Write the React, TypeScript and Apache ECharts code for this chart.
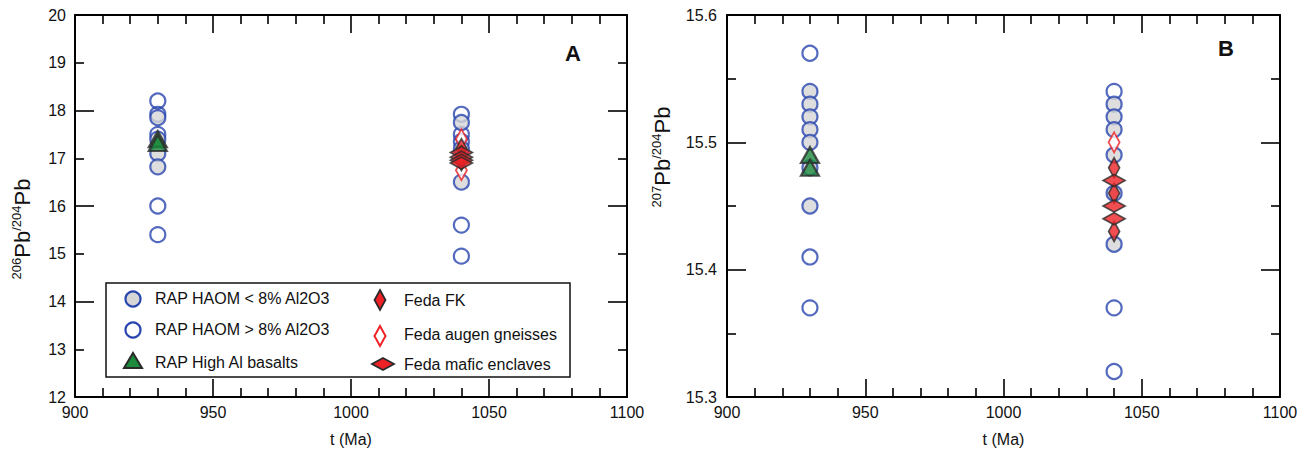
import React, { useEffect, useRef } from "react";
import * as echarts from "echarts";

// ---------- DATA ----------
// Panel A : 206Pb/204Pb vs t (Ma)
const aHaomLow: number[][] = [[930, 17.85], [930, 17.4], [930, 17.1], [930, 16.82], [1040, 17.75], [1040, 17.2], [1040, 16.5]];
const aHaomHigh: number[][] = [[930, 18.2], [930, 17.92], [930, 17.5], [930, 16.0], [930, 15.4], [1040, 17.92], [1040, 17.5], [1040, 17.35], [1040, 15.6], [1040, 14.95]];
const aHighAlBasalt: number[][] = [[930, 17.4], [930, 17.32]];
const aFedaFK: number[][] = [[1040, 17.2], [1040, 17.05], [1040, 16.95]];
const aFedaAugen: number[][] = [[1040, 17.4], [1040, 16.75]];
const aFedaMafic: number[][] = [[1040, 17.12], [1040, 17.02], [1040, 16.96], [1040, 16.9]];

// Panel B : 207Pb/204Pb vs t (Ma)
const bHaomLow: number[][] = [[930, 15.54], [930, 15.53], [930, 15.52], [930, 15.51], [930, 15.5], [930, 15.48], [930, 15.45], [1040, 15.53], [1040, 15.52], [1040, 15.51], [1040, 15.49], [1040, 15.46], [1040, 15.42]];
const bHaomHigh: number[][] = [[930, 15.57], [930, 15.41], [930, 15.37], [1040, 15.54], [1040, 15.37], [1040, 15.32]];
const bHighAlBasalt: number[][] = [[930, 15.49], [930, 15.48]];
const bFedaFK: number[][] = [[1040, 15.48], [1040, 15.46], [1040, 15.43]];
const bFedaAugen: number[][] = [[1040, 15.5]];
const bFedaMafic: number[][] = [[1040, 15.47], [1040, 15.45], [1040, 15.44]];

const xTicksMin = 900;
const xTicksMax = 1100;
const aYMin = 12;
const aYMax = 20;
const bYMin = 15.3;
const bYMax = 15.6;

const legendLeft = ["RAP HAOM < 8% Al2O3", "RAP HAOM > 8% Al2O3", "RAP High Al basalts"];
const legendRight = ["Feda FK", "Feda augen gneisses", "Feda mafic enclaves"];

// ---------- STYLE ----------
const FONT = "Arial, 'Liberation Sans', Helvetica, sans-serif";
const INK = "#111";
const BLUE = "#2845ae";
const GRAY = "#d6d6d6";
const GREEN = "#1c8a3c";
const RED = "#ee2226";
const DARK = "#2a2a2a";

const lineStyle = { color: "#000", width: 2 };
const tickStyle = { color: "#000", width: 1.6 };

function xAx(gridIndex: number, pos: "bottom" | "top") {
  const bottom = pos === "bottom";
  return {
    gridIndex,
    type: "value",
    position: pos,
    min: xTicksMin,
    max: xTicksMax,
    interval: 50,
    axisLine: { show: true, onZero: false, lineStyle },
    axisTick: { show: true, inside: true, length: 18, lineStyle: tickStyle },
    minorTick: { show: true, splitNumber: 5, length: 9, lineStyle: tickStyle },
    splitLine: { show: false },
    axisLabel: { show: bottom, color: INK, fontSize: 16, fontFamily: FONT, margin: 7, formatter: (v: number) => String(v) },
    name: bottom ? "t (Ma)" : "",
    nameLocation: "middle",
    nameGap: 34,
    nameTextStyle: { color: INK, fontSize: 16, fontFamily: FONT },
  };
}

function yAx(gridIndex: number, pos: "left" | "right", min: number, max: number, interval: number, opts: any) {
  return {
    gridIndex,
    type: "value",
    position: pos,
    min,
    max,
    interval,
    axisLine: { show: true, onZero: false, lineStyle },
    axisTick: { show: true, inside: true, length: 19, lineStyle: tickStyle },
    minorTick: { show: true, splitNumber: 2, length: 9, lineStyle: tickStyle },
    splitLine: { show: false },
    axisLabel: { show: false },
    ...opts,
  };
}

function scatter(name: string, data: number[][], xi: number, yi: number, sym: any) {
  return { name, type: "scatter", xAxisIndex: xi, yAxisIndex: yi, data, ...sym };
}

const symOpen = { symbol: "circle", symbolSize: 15, itemStyle: { color: "rgba(255,255,255,0)", borderColor: BLUE, borderWidth: 2.2 }, z: 2 };
const symGray = { symbol: "circle", symbolSize: 15, itemStyle: { color: GRAY, borderColor: BLUE, borderWidth: 2.2 }, z: 3 };
const symTri = { symbol: "triangle", symbolSize: [18, 16], itemStyle: { color: GREEN, borderColor: DARK, borderWidth: 2.2 }, z: 4 };
const symAugen = { symbol: "diamond", symbolSize: [11, 20], itemStyle: { color: "#fff", borderColor: RED, borderWidth: 2 }, z: 4 };
const symFK = { symbol: "diamond", symbolSize: [11, 20], itemStyle: { color: RED, borderColor: DARK, borderWidth: 1.8 }, z: 5 };
const symMafic = { symbol: "diamond", symbolSize: [22, 12], itemStyle: { color: RED, borderColor: DARK, borderWidth: 1.8 }, z: 5 };

function titleText(x: number, y: number, a: string, b: string) {
  return {
    type: "text",
    x,
    y,
    rotation: Math.PI / 2,
    style: {
      text: `{s|${a}}{m|Pb}{s|/${b}}{m|Pb}`,
      align: "center",
      verticalAlign: "middle",
      rich: {
        s: { fontSize: 13, fontFamily: FONT, fill: INK, verticalAlign: "top", lineHeight: 12 },
        m: { fontSize: 22, fontFamily: FONT, fill: INK, lineHeight: 24 },
      },
    },
  };
}

function diamond(cx: number, cy: number, w: number, h: number) {
  return [[cx, cy - h / 2], [cx + w / 2, cy], [cx, cy + h / 2], [cx - w / 2, cy]];
}

export default function App() {
  const ref = useRef<HTMLDivElement>(null);
  useEffect(() => {
    document.body.style.margin = "0";
    const chart = echarts.init(ref.current!, null, { renderer: "svg" });
    const textStyle = (t: string, x: number, y: number) => ({
      type: "text",
      x,
      y,
      style: { text: t, fontSize: 16, fontFamily: FONT, fill: INK, verticalAlign: "middle" },
    });
    const option: any = {
      animation: false,
      backgroundColor: "#fff",
      grid: [
        { left: 75, top: 15, width: 552, height: 382 },
        { left: 727, top: 15, width: 553, height: 382 },
      ],
      xAxis: [xAx(0, "bottom"), xAx(0, "top"), xAx(1, "bottom"), xAx(1, "top")],
      yAxis: [
        yAx(0, "left", aYMin, aYMax, 2, {}),
        yAx(0, "left", aYMin, aYMax, 1, {
          axisLine: { show: false },
          axisTick: { show: false },
          minorTick: { show: false },
          axisLabel: { show: true, color: INK, fontSize: 16, fontFamily: FONT, margin: 9 },
        }),
        yAx(0, "right", aYMin, aYMax, 2, {}),
        yAx(1, "left", bYMin, bYMax, 0.1, {
          axisLabel: {
            show: true,
            color: INK,
            fontSize: 16,
            fontFamily: FONT,
            margin: 10,
            formatter: (v: number) => v.toFixed(1),
          },
        }),
        yAx(1, "right", bYMin, bYMax, 0.1, {}),
      ],
      series: [
        scatter("RAP HAOM > 8% Al2O3", aHaomHigh, 0, 0, symOpen),
        scatter("RAP HAOM < 8% Al2O3", aHaomLow, 0, 0, symGray),
        scatter("RAP High Al basalts", aHighAlBasalt, 0, 0, symTri),
        scatter("Feda augen gneisses", aFedaAugen, 0, 0, symAugen),
        scatter("Feda FK", aFedaFK, 0, 0, symFK),
        scatter("Feda mafic enclaves", aFedaMafic, 0, 0, symMafic),
        scatter("RAP HAOM > 8% Al2O3", bHaomHigh, 2, 3, symOpen),
        scatter("RAP HAOM < 8% Al2O3", bHaomLow, 2, 3, symGray),
        scatter("RAP High Al basalts", bHighAlBasalt, 2, 3, symTri),
        scatter("Feda augen gneisses", bFedaAugen, 2, 3, symAugen),
        scatter("Feda FK", bFedaFK, 2, 3, symFK),
        scatter("Feda mafic enclaves", bFedaMafic, 2, 3, symMafic),
      ],
      graphic: [
        titleText(22, 229, "206", "204"),
        titleText(662, 157, "207", "204"),
        { type: "text", x: 573, y: 53, style: { text: "A", fontSize: 22, fontWeight: "bold", fontFamily: FONT, fill: INK, align: "center", verticalAlign: "middle" } },
        { type: "text", x: 1226, y: 48, style: { text: "B", fontSize: 22, fontWeight: "bold", fontFamily: FONT, fill: INK, align: "center", verticalAlign: "middle" } },
        {
          type: "group",
          z: 10,
          children: [
            { type: "rect", shape: { x: 106, y: 283, width: 464, height: 94 }, style: { fill: "#fff", stroke: INK, lineWidth: 1.5 } },
            { type: "circle", shape: { cx: 133, cy: 299, r: 7.5 }, style: { fill: GRAY, stroke: BLUE, lineWidth: 2.2 } },
            { type: "circle", shape: { cx: 133, cy: 330, r: 7.5 }, style: { fill: "#fff", stroke: BLUE, lineWidth: 2.2 } },
            { type: "polygon", shape: { points: [[124, 368], [142, 368], [133, 353]] }, style: { fill: GREEN, stroke: DARK, lineWidth: 2 } },
            { type: "polygon", shape: { points: diamond(380, 300, 11, 20) }, style: { fill: RED, stroke: DARK, lineWidth: 1.8 } },
            { type: "polygon", shape: { points: diamond(380, 336, 11, 20) }, style: { fill: "#fff", stroke: RED, lineWidth: 2 } },
            { type: "polygon", shape: { points: diamond(383, 364, 22, 12) }, style: { fill: RED, stroke: DARK, lineWidth: 1.8 } },
            textStyle(legendLeft[0], 155, 298),
            textStyle(legendLeft[1], 155, 329),
            textStyle(legendLeft[2], 155, 362),
            textStyle(legendRight[0], 404, 300),
            textStyle(legendRight[1], 404, 334),
            textStyle(legendRight[2], 404, 364),
          ],
        },
      ],
    };
    chart.setOption(option);
    return () => chart.dispose();
  }, []);
  return <div ref={ref} style={{ width: 1304, height: 458 }} />;
}
